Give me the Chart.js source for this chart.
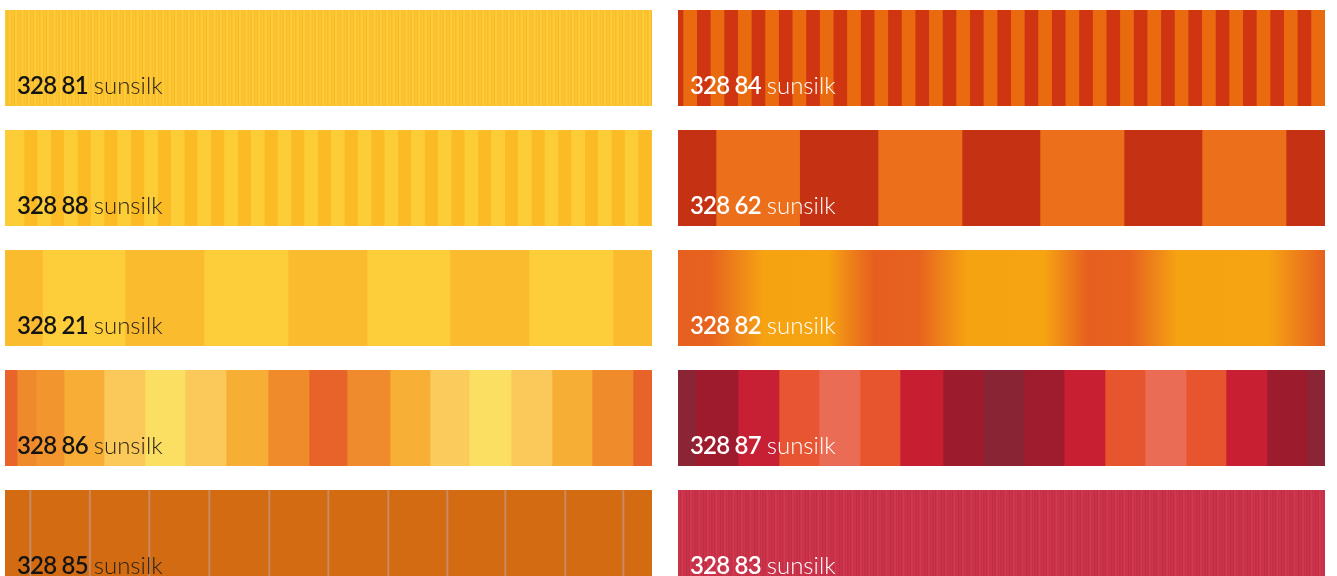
<!DOCTYPE html>
<html>
<head>
<meta charset="utf-8">
<script src="https://cdn.jsdelivr.net/npm/chart.js@4.4.1/dist/chart.umd.min.js"></script>
<style>
  html, body { margin: 0; padding: 0; background: #fff; }
  body { width: 1337px; height: 576px; overflow: hidden; position: relative;
         font-family: Lato, 'Open Sans', sans-serif; }
  .swatch { position: absolute; width: 647px; height: 96px; overflow: hidden; }
  .swatch canvas { display: block; position: absolute; left: 0; top: 0; filter: blur(0.6px); }
  .label { position: absolute; left: 12px; top: 63px; font-size: 24px; line-height: 24px;
           white-space: nowrap; }
  .label b { font-weight: 600; letter-spacing: -0.8px; margin-right: 6px; }
  .label span { font-weight: 300; }
  .label.dark { color: #141414; }
  .label.dark span { color: #2a2418; }
  .label.light { color: #fff; }
</style>
</head>
<body>
<script>
/* =========================================================
   sunsilk swatches — each stripe is one stacked bar segment
   ========================================================= */

const CODES = ['328 81', '328 88', '328 21', '328 86', '328 85',
               '328 84', '328 62', '328 82', '328 87', '328 83'];
const NAME = 'sunsilk';
const SWATCH_WIDTH = 647;

// ---------------------- stripe data (widths in px of cloth, colours) ----------------------
// 328 81 — fine pinstripe, one weave repeat
const w81 = [2.2, 0.9, 2.4, 0.9];
const c81 = ['#fdc531', '#f5b726', '#fecb3a', '#f7bb2a'];
const n81 = 102;

// 328 88 — yellow / amber stripes
const lead88W = [19];
const lead88C = ['#fdcd37'];
const w88 = [13, 13.7];
const c88 = ['#fbbb25', '#fdcd37'];
const n88 = 24;

// 328 21 — wide yellow blocks
const w21 = [37.4, 82.6, 79, 84, 79, 83, 79, 84, 39];
const c21 = ['#fbbb2f', '#fdcd3a', '#fbbb2f', '#fdcd3a', '#fbbb2f',
             '#fdcd3a', '#fbbb2f', '#fdcd3a', '#fbbb2f'];

// 328 86 — multicolour orange/yellow bands
const w86 = [12, 19, 28, 40, 41, 40, 41, 42, 41, 38, 43, 40, 39, 42, 41, 40, 41, 19];
const c86 = ['#e9642a', '#ef8a2c', '#f2952f', '#f8ae36', '#fbc95a', '#fadf62',
             '#fbc95a', '#f7ae35', '#f08b2c', '#e8632a', '#ef8b2d', '#f7b035',
             '#fbcb5c', '#fadf62', '#fbc95a', '#f7ae35', '#f08b2c', '#e8632a'];

// 328 85 — plain orange with thin light lines
const w85 = [24, 2, 57.5, 2, 57.5, 2, 58, 2, 58, 2, 57, 2, 58, 2, 57, 2, 56, 2, 58, 2, 56, 2, 28];
const c85 = ['#d36b12', '#c98a64', '#d36b12', '#c98a64', '#d36b12', '#c98a64',
             '#d36b12', '#c98a64', '#d36b12', '#c98a64', '#d36b12', '#c98a64',
             '#d36b12', '#c98a64', '#d36b12', '#c98a64', '#d36b12', '#c98a64',
             '#d36b12', '#c98a64', '#d36b12', '#c98a64', '#d36b12'];

// 328 84 — red / orange stripes
const lead84W = [5];
const lead84C = ['#cf3511'];
const w84 = [13.7, 13.6];
const c84 = ['#ea6a10', '#cf3511'];
const n84 = 24;

// 328 62 — wide red / orange blocks
const w62 = [38, 83.6, 78.4, 84, 78, 84, 78, 84, 39];
const c62 = ['#c53113', '#ec701c', '#c53113', '#ec701c', '#c53113',
             '#ec701c', '#c53113', '#ec701c', '#c53113'];

// 328 82 — ombré, gradient stops [position, colour]
const stops82 = [
  [0, '#e65f1f'], [32, '#e7621f'], [58, '#ee8219'], [86, '#f6a312'], [150, '#f6a412'],
  [172, '#ee8219'], [196, '#e65f1f'], [240, '#e7611f'], [264, '#ee8219'], [290, '#f6a312'],
  [366, '#f6a412'], [388, '#ee8219'], [410, '#e65f1f'], [452, '#e7621f'], [475, '#ee8219'],
  [500, '#f6a312'], [590, '#f6a412'], [618, '#ee8219'], [647, '#e65f1f'],
];

// 328 87 — deep red / salmon bands
const w87 = [18, 42, 41, 40, 41, 40, 43, 40, 41, 40, 41, 40, 41, 40, 41, 40, 18];
const c87 = ['#8b2434', '#9e1b2d', '#c71f33', '#e75533', '#eb6c55', '#e7552f',
             '#c81e32', '#9c1c2e', '#892435', '#9e1c2e', '#c81f32', '#e7552f',
             '#eb6c55', '#e7552f', '#c81f32', '#9c1c2e', '#8a2535'];

// 328 83 — crimson fine stripes, one weave repeat
const w83 = [2, 1, 2, 1, 1.5, 1];
const c83 = ['#cc3349', '#bf2c43', '#d23a51', '#c4304a', '#cf364c', '#b92f47'];
const n83 = 77;

// ---------------------- layout ----------------------
const LIGHT_TEXT = new Set(['328 84', '328 62', '328 82', '328 87', '328 83']);
const COL_X = [5, 678];
const ROW_Y0 = 10;
const ROW_STEP = 120;

// ---------------------- helpers ----------------------
function expand(leadW, leadC, unitW, unitC, times) {
  const widths = [...leadW];
  const colors = [...leadC];
  for (let i = 0; i < times; i++) {
    widths.push(...unitW);
    colors.push(...unitC);
  }
  return { widths, colors };
}

function stripeDatasets(widths, colors) {
  return widths.map((w, i) => ({
    data: [w],
    backgroundColor: colors[i],
    borderWidth: 0,
    barPercentage: 1,
    categoryPercentage: 1,
  }));
}

function gradientDataset(stops) {
  const total = stops[stops.length - 1][0];
  return [{
    data: [total],
    borderWidth: 0,
    barPercentage: 1,
    categoryPercentage: 1,
    backgroundColor: (ctx) => {
      const chart = ctx.chart;
      if (!chart.chartArea) return stops[0][1];
      const xs = chart.scales.x;
      const x0 = xs.getPixelForValue(0);
      const x1 = xs.getPixelForValue(total);
      const g = chart.ctx.createLinearGradient(x0, 0, x1, 0);
      stops.forEach(([pos, col]) => g.addColorStop(pos / total, col));
      return g;
    },
  }];
}

function makeSwatch(code, col, row, datasets, baseColor) {
  const box = document.createElement('div');
  box.className = 'swatch';
  box.style.left = COL_X[col] + 'px';
  box.style.top = (ROW_Y0 + row * ROW_STEP) + 'px';
  box.style.background = baseColor;

  const canvas = document.createElement('canvas');
  canvas.width = SWATCH_WIDTH;
  canvas.height = 96;
  canvas.style.width = SWATCH_WIDTH + 'px';
  canvas.style.height = '96px';
  box.appendChild(canvas);

  const label = document.createElement('div');
  label.className = 'label ' + (LIGHT_TEXT.has(code) ? 'light' : 'dark');
  label.innerHTML = `<b>${code}</b><span>${NAME}</span>`;
  box.appendChild(label);
  document.body.appendChild(box);

  return new Chart(canvas, {
    type: 'bar',
    data: { labels: [code], datasets },
    options: {
      indexAxis: 'y',
      responsive: false,
      animation: false,
      events: [],
      layout: { padding: 0 },
      plugins: {
        legend: { display: false },
        tooltip: { enabled: false },
      },
      scales: {
        x: { stacked: true, display: false, min: 0, max: SWATCH_WIDTH },
        y: { stacked: true, display: false },
      },
    },
  });
}

// ---------------------- build ----------------------
const s81 = expand([], [], w81, c81, n81);
const s88 = expand(lead88W, lead88C, w88, c88, n88);
const s84 = expand(lead84W, lead84C, w84, c84, n84);
const s83 = expand([], [], w83, c83, n83);

makeSwatch(CODES[0], 0, 0, stripeDatasets(s81.widths, s81.colors), '#fdc531');
makeSwatch(CODES[1], 0, 1, stripeDatasets(s88.widths, s88.colors), '#fcc42e');
makeSwatch(CODES[2], 0, 2, stripeDatasets(w21, c21), '#fcc434');
makeSwatch(CODES[3], 0, 3, stripeDatasets(w86, c86), '#f5a83a');
makeSwatch(CODES[4], 0, 4, stripeDatasets(w85, c85), '#d36b12');
makeSwatch(CODES[5], 1, 0, stripeDatasets(s84.widths, s84.colors), '#dd5010');
makeSwatch(CODES[6], 1, 1, stripeDatasets(w62, c62), '#d95118');
makeSwatch(CODES[7], 1, 2, gradientDataset(stops82), '#ee8219');
makeSwatch(CODES[8], 1, 3, stripeDatasets(w87, c87), '#b8303a');
makeSwatch(CODES[9], 1, 4, stripeDatasets(s83.widths, s83.colors), '#c8324a');
</script>
</body>
</html>
